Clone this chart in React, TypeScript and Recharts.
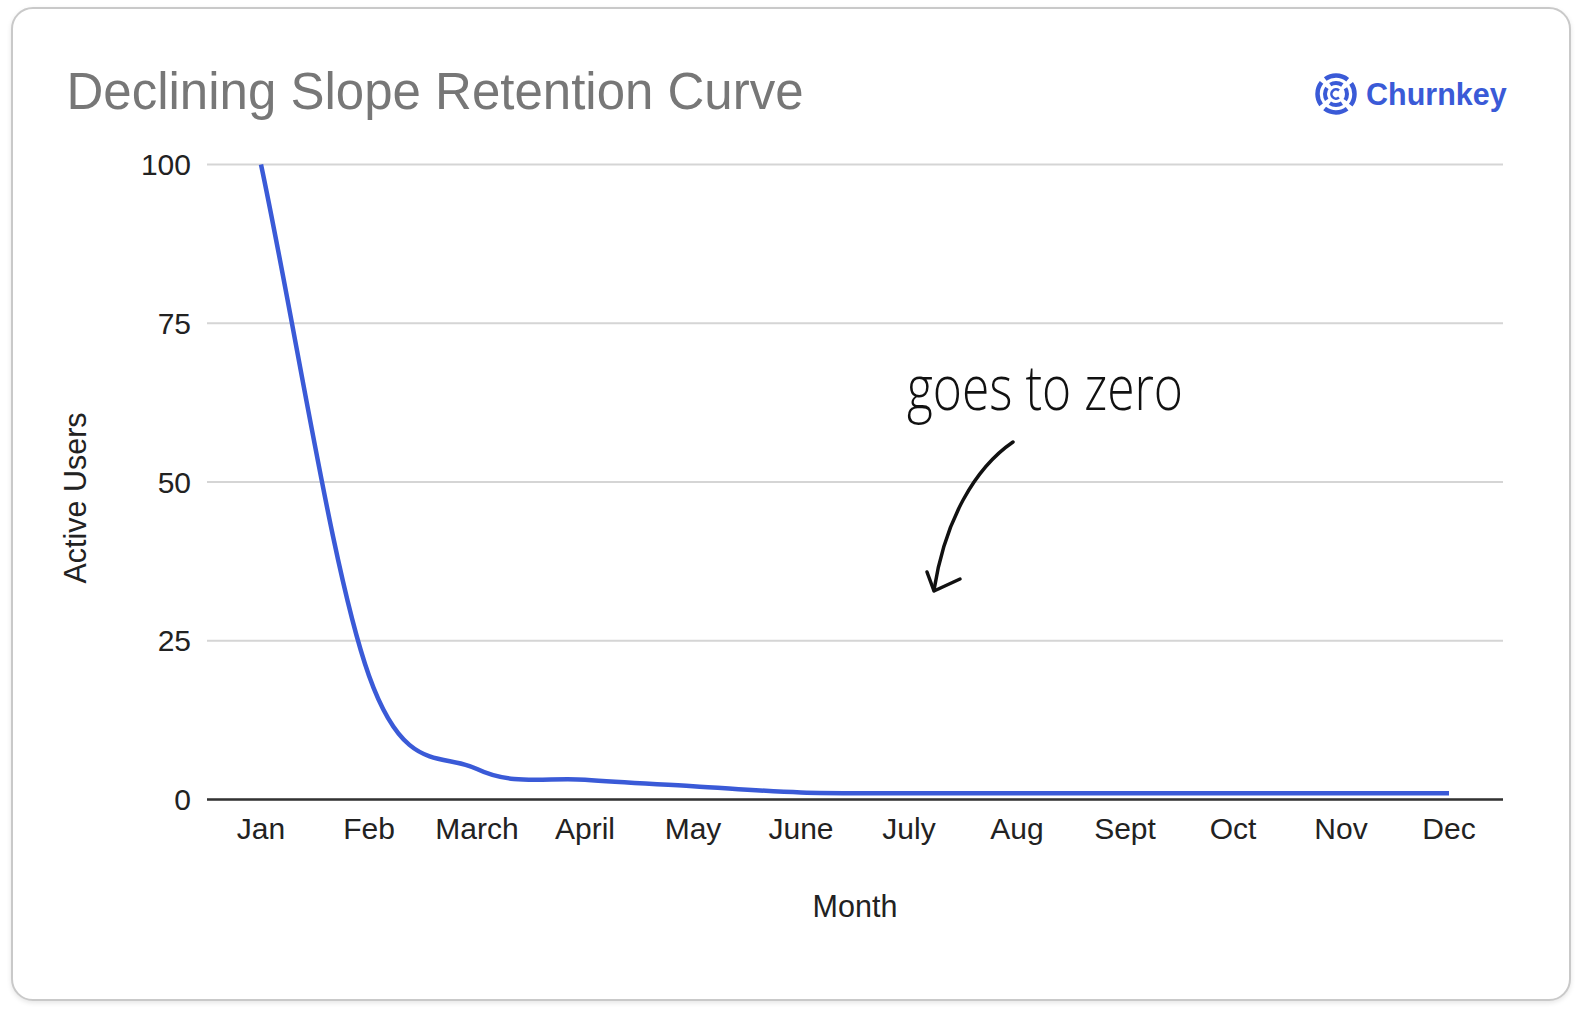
import React from "react";
import { CartesianGrid, Line, LineChart, XAxis, YAxis } from "recharts";

const months = ["Jan", "Feb", "March", "April", "May", "June", "July", "Aug", "Sept", "Oct", "Nov", "Dec"];
const activeUsers = [100, 19.5, 4.8, 3.1, 2.1, 1.1, 1, 1, 1, 1, 1, 1];
const yTicks = [0, 25, 50, 75, 100];

const data = months.map((month, i) => ({ month, users: activeUsers[i] }));

const FONT = '"Liberation Sans", Arial, Helvetica, sans-serif';
const BLUE = "#3a5ad7";

// smooth curve through every point, tangent = (next - prev) / 2, one-sided at the ends
const smoothCurve = (context: any) => {
  let pts: [number, number][] = [];
  return {
    areaStart() {},
    areaEnd() {},
    lineStart() {
      pts = [];
    },
    lineEnd() {
      const n = pts.length;
      if (!n) return;
      context.moveTo(pts[0][0], pts[0][1]);
      const tan = pts.map((_, i) => {
        const a = pts[Math.max(0, i - 1)];
        const b = pts[Math.min(n - 1, i + 1)];
        const k = i === 0 || i === n - 1 ? 1 : 0.5;
        return [(b[0] - a[0]) * k, (b[1] - a[1]) * k];
      });
      for (let i = 0; i < n - 1; i++) {
        context.bezierCurveTo(
          pts[i][0] + tan[i][0] / 3,
          pts[i][1] + tan[i][1] / 3,
          pts[i + 1][0] - tan[i + 1][0] / 3,
          pts[i + 1][1] - tan[i + 1][1] / 3,
          pts[i + 1][0],
          pts[i + 1][1]
        );
      }
    },
    point(x: number, y: number) {
      pts.push([x, y]);
    },
  };
};

function Logo() {
  const cx = 1336;
  const cy = 94;
  const ring = (r: number, gap: number, w: number) => {
    const c = 2 * Math.PI * r;
    const dash = c / 4 - gap;
    return (
      <circle
        cx={cx}
        cy={cy}
        r={r}
        fill="none"
        stroke={BLUE}
        strokeWidth={w}
        strokeDasharray={`${dash} ${gap}`}
        strokeDashoffset={dash / 2}
      />
    );
  };
  return (
    <g>
      {ring(18.5, 5, 4.5)}
      {ring(11, 4.5, 4)}
      <path d={`M${cx + 3},${cy - 3.5} A4.6,4.6 0 1 0 ${cx + 3},${cy + 3.5}`} fill="none" stroke={BLUE} strokeWidth={2.6} />
      <text x={1366} y={104.5} fontFamily={FONT} fontWeight={700} fontSize={30.5} fill={BLUE}>
        Churnkey
      </text>
    </g>
  );
}

export default function App() {
  return (
    <div style={{ position: "absolute", left: 0, top: 0, width: 1582, height: 1016, background: "#fff" }}>
      <div
        style={{
          position: "absolute",
          left: 11,
          top: 7,
          width: 1560,
          height: 994,
          boxSizing: "border-box",
          border: "2px solid #c9c9c9",
          borderRadius: 22,
          boxShadow: "0 2px 5px rgba(0,0,0,0.10)",
          background: "#fff",
        }}
      />
      <div style={{ position: "absolute", left: 0, top: 0 }}>
        <LineChart width={1582} height={1016} data={data} margin={{ top: 164.5, right: 79, left: 0, bottom: 156.5 }}>
          <CartesianGrid vertical={false} stroke="#d5d5d5" strokeWidth={2} />
          <XAxis
            dataKey="month"
            interval={0}
            height={60}
            padding={{ left: 54, right: 54 }}
            tickLine={false}
            tickSize={0}
            tickMargin={18}
            axisLine={{ stroke: "#333", strokeWidth: 2.5 }}
            tick={{ fill: "#222", fontSize: 30, fontFamily: FONT }}
          />
          <YAxis
            type="number"
            domain={[0, 100]}
            ticks={yTicks}
            width={207}
            axisLine={false}
            tickLine={false}
            tickSize={0}
            tickMargin={16}
            tick={{ fill: "#222", fontSize: 30, fontFamily: FONT }}
          />
          <Line
            dataKey="users"
            type={smoothCurve as any}
            stroke={BLUE}
            strokeWidth={4.5}
            dot={false}
            activeDot={false}
            isAnimationActive={false}
          />
        </LineChart>
      </div>
      <svg width={1582} height={1016} style={{ position: "absolute", left: 0, top: 0, pointerEvents: "none" }}>
        <text x={66.5} y={109} fontFamily={FONT} fontSize={51} fill="#777">
          Declining Slope Retention Curve
        </text>
        <Logo />
        <text
          x={86}
          y={498}
          transform="rotate(-90, 86, 498)"
          textAnchor="middle"
          fontFamily={FONT}
          fontSize={30.5}
          fill="#222"
        >
          Active Users
        </text>
        <text x={855} y={917} textAnchor="middle" fontFamily={FONT} fontSize={30.5} fill="#222">
          Month
        </text>
        <text
          x={907}
          y={410}
          textLength={276}
          lengthAdjust="spacingAndGlyphs"
          fontFamily='"Open Sans", "DejaVu Sans Condensed", sans-serif'
          fontWeight={300}
          fontSize={62}
          fill="#111"
        >
          goes to zero
        </text>
        <path d="M1013,442 C975,468 945,520 934,590" fill="none" stroke="#111" strokeWidth={3.5} strokeLinecap="round" />
        <path d="M927,572 L934,591 L960,579" fill="none" stroke="#111" strokeWidth={3.5} strokeLinecap="round" strokeLinejoin="round" />
      </svg>
    </div>
  );
}
